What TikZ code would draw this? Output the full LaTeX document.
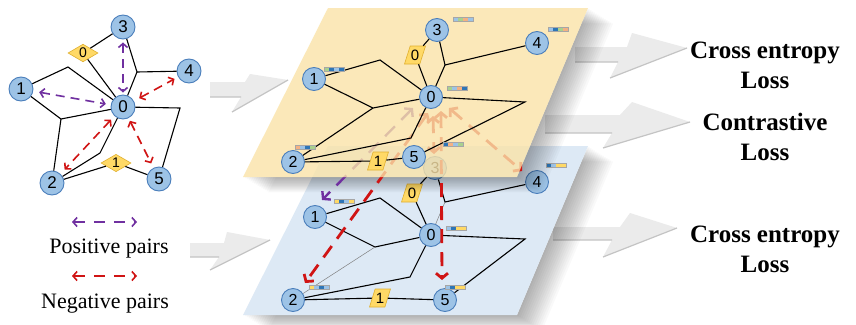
\documentclass[tikz,border=0pt]{standalone}
\usepackage{fontspec}
\setmainfont{Liberation Serif}
\newfontfamily\sansf{Liberation Sans}
\usetikzlibrary{shapes.geometric,arrows.meta}
\definecolor{nodef}{HTML}{9DC3E6}
\definecolor{nodeb}{HTML}{4A7EBB}
\definecolor{yel}{HTML}{FAE3A8}
\definecolor{blu}{HTML}{DDE9F5}
\definecolor{dia}{HTML}{FFD966}
\definecolor{diab}{HTML}{E0B030}
\definecolor{pur}{HTML}{7030A0}
\definecolor{redd}{HTML}{D01414}
\definecolor{fa}{HTML}{9DC3E6}
\definecolor{fg}{HTML}{A9D18E}
\definecolor{fo}{HTML}{F4B183}
\definecolor{fd}{HTML}{2E75B6}
\definecolor{fy}{HTML}{FFD966}
\definecolor{arrf}{HTML}{EBEBEB}
\definecolor{arre}{HTML}{C4C4C4}
\newcommand{\fbar}[5]{%
  \begin{scope}[shift={#1}]
    \fill[#2] (0,0) rectangle (5,4.5);
    \fill[#3] (5,0) rectangle (10,4.5);
    \fill[#4] (10,0) rectangle (15,4.5);
    \fill[#5] (15,0) rectangle (20,4.5);
    \draw[gray!70, line width=0.3pt] (0,0) rectangle (20,4.5);
  \end{scope}}
\tikzset{
  gn/.style={circle, draw=nodeb, fill=nodef, line width=0.9pt, minimum size=23pt, inner sep=0pt,
    font=\sansf\fontsize{16}{16}\selectfont},
  lgn/.style={gn, minimum size=24pt, font=\sansf\fontsize{17}{17}\selectfont},
  dmd/.style={diamond, fill=dia, draw=diab, line width=0.6pt, minimum width=30pt, minimum height=17pt,
    inner sep=0pt, font=\sansf\fontsize{14}{14}\selectfont},
  par/.style={trapezium, trapezium left angle=65, trapezium right angle=115, trapezium stretches=true,
    fill=dia, draw=diab, line width=0.6pt, minimum width=21pt, minimum height=18pt, inner sep=0pt,
    font=\sansf\fontsize{15}{15}\selectfont},
  gedge/.style={black, line width=1.1pt},
  thinedge/.style={gray, line width=0.5pt},
  posarr/.style={pur, line width=1.6pt, dash pattern=on 9pt off 6pt,
    arrows={Straight Barb[length=4pt,width=9pt]-Straight Barb[length=4pt,width=9pt]}},
  negarr/.style={posarr, redd},
  interarr/.style={redd, line width=2.8pt, dash pattern=on 14pt off 9pt,
    arrows={Straight Barb[length=5pt,width=12pt]-Straight Barb[length=5pt,width=12pt]}},
  lbl/.style={font=\fontsize{22}{26}\selectfont, inner sep=0pt},
  losstxt/.style={font=\bfseries\fontsize{25}{30}\selectfont, align=center, inner sep=0pt},
  garrow/.style={fill=arrf, draw=none},
  gedgeline/.style={arre, line width=1.2pt},
}
\begin{document}
\begin{tikzpicture}[x=1pt,y=-1pt]
\useasboundingbox (0,0) rectangle (856,324);
\fill[white] (0,0) rectangle (856,324);

% ---------- gray arrows ----------
\fill[garrow] (210,82) -- (245,82) -- (250,74) -- (288,80) -- (232,112) -- (241,97) -- (210,97) -- cycle;
\draw[gedgeline] (210,97) -- (241,97) (288,80) -- (232,112);
\fill[garrow] (190,243) -- (224,243) -- (227,232) -- (270,240) -- (210,270) -- (219,257) -- (190,257) -- cycle;
\draw[gedgeline] (190,257) -- (219,257) (270,240) -- (210,270);
\fill[garrow] (575,47) -- (627,47) -- (632,33) -- (687,48) -- (610,78) -- (618,62) -- (575,62) -- cycle;
\draw[gedgeline] (575,62) -- (618,62) (687,48) -- (610,78);
\fill[garrow] (545,115) -- (620,115) -- (632,102) -- (690,122) -- (603,148) -- (612,133) -- (545,133) -- cycle;
\draw[gedgeline] (545,133) -- (612,133) (690,122) -- (603,148);
\fill[garrow] (553,227) -- (620,227) -- (630,213) -- (677,228) -- (603,257) -- (612,240) -- (553,240) -- cycle;
\draw[gedgeline] (553,240) -- (612,240) (677,228) -- (603,257);

% ---------- left graph ----------
\node[lgn] (L0) at (123,107) {0};
\node[lgn] (L1) at (21,89) {1};
\node[lgn] (L2) at (52,183) {2};
\node[lgn] (L3) at (123,27) {3};
\node[lgn] (L4) at (189,71) {4};
\node[lgn] (L5) at (159,179) {5};
\node[dmd] (LD0) at (83,53) {0};
\node[dmd] (LD1) at (116,163) {1};
\coordinate (la) at (137,72);
\coordinate (lb) at (68,67);
\coordinate (lc) at (61,119);
\coordinate (ld) at (100,153);
\coordinate (le) at (180,108);
\draw[gedge] (L3) -- (LD0) -- (L0);
\draw[gedge] (L3) -- (la) -- (L4);
\draw[gedge] (la) -- (L0);
\draw[gedge] (L1) -- (lb) -- (L0);
\draw[gedge] (L1) -- (lc) -- (L0);
\draw[gedge] (lc) -- (L2);
\draw[gedge] (L0) -- (ld) -- (L2);
\draw[gedge] (L0) -- (le) -- (L5);
\draw[gedge] (L2) -- (LD1) -- (L5);
\draw[posarr, shorten <=3pt, shorten >=2pt] (L3) -- (L0);
\draw[posarr, shorten <=6pt, shorten >=5pt] (L1) -- (L0);
\draw[negarr, shorten <=6pt, shorten >=4pt] (L0) -- (L4);
\draw[negarr, shorten <=5pt, shorten >=6pt] (L0) -- (L2);
\draw[negarr, shorten <=3pt, shorten >=5pt] (L0) -- (L5);

% legend
\coordinate (pa) at (72,222);
\coordinate (pb) at (137,222);
\coordinate (na) at (72,276);
\coordinate (nb) at (137,276);
\draw[posarr, dash pattern=on 11pt off 9pt] (pa) -- (pb);
\draw[negarr, dash pattern=on 11pt off 9pt] (na) -- (nb);
\node[lbl] (pos) at (109,249) {Positive pairs};
\node[lbl] (neg) at (105,304) {Negative pairs};

% ---------- loss labels ----------
\node[losstxt] (ce1) at (765,65) {Cross entropy\\Loss};
\node[losstxt] (cl) at (765,137) {Contrastive\\Loss};
\node[losstxt] (ce2) at (765,249) {Cross entropy\\Loss};

% ---------- blue plane ----------
\begin{scope}
  \clip (588,146) -- (860,146) -- (860,330) -- (230,330) -- (243,315) -- (517,315) -- cycle;
  \foreach \i in {1,...,14}{
    \begin{scope}[shift={(1.8*\i,1.1*\i)}]
      \fill[black, opacity=0.025] (328,146) -- (588,146) -- (517,315) -- (243,315) -- cycle;
    \end{scope}}
\end{scope}
\fill[blu] (328,146) -- (588,146) -- (517,315) -- (243,315) -- cycle;

% bottom graph
\node[gn] (B0) at (431,235) {0};
\node[gn] (B1) at (315,217) {1};
\node[gn] (B2) at (293,300) {2};
\node[gn] (B3) at (435,168) {3};
\node[gn] (B4) at (537,182) {4};
\node[gn] (B5) at (445,300) {5};
\node[par] (BP0) at (412,193) {0};
\node[par] (BP1) at (380,298) {1};
\coordinate (ba) at (445,202);
\coordinate (bb) at (380,198);
\coordinate (bc) at (375,247);
\coordinate (bd) at (410,277);
\coordinate (be) at (525,239);
\draw[gedge] (B3) -- (BP0) -- (B0);
\draw[gedge] (B3) -- (ba) -- (B4);
\draw[thinedge] (ba) -- (B0);
\draw[gedge] (B1) -- (bb) -- (B0);
\draw[gedge] (B1) -- (bc) -- (B0);
\draw[thinedge] (bc) -- (B2);
\draw[gedge] (B0) -- (bd) -- (B2);
\draw[gedge] (B0) -- (be) -- (B5);
\draw[gedge] (B2) -- (BP1) -- (B5);
\fbar{(546,163)}{fd}{fa}{fy}{fy}
\fbar{(334,199)}{fy}{fd}{fa}{fy}
\fbar{(446,226)}{fa}{fd}{fy}{fy}
\fbar{(309,285)}{fy}{fa}{fd}{fa}
\fbar{(445,285)}{fa}{fd}{fy}{fy}

% ---------- yellow plane shadow ----------
\begin{scope}
  \clip (588,8) -- (860,8) -- (860,330) -- (230,330) -- (243,177) -- (517,177) -- cycle;
  \foreach \i in {1,...,14}{
    \begin{scope}[shift={(1.8*\i,1.1*\i)}]
      \fill[black, opacity=0.025] (328,8) -- (588,8) -- (517,177) -- (243,177) -- cycle;
    \end{scope}}
\end{scope}

% ---------- inter-plane pairs ----------
\coordinate (u1) at (413,108);
\coordinate (u2) at (322,200);
\coordinate (r2a) at (428,113);
\coordinate (r2b) at (305,283);
\coordinate (r3a) at (433,116);
\coordinate (r3b) at (434,154);
\coordinate (r5a) at (441,111);
\coordinate (r5b) at (442,280);
\coordinate (r4a) at (449,108);
\coordinate (r4b) at (522,171);
\draw[interarr, pur, line width=2.4pt] (u1) -- (u2);
\draw[interarr] (r2a) -- (r2b);
\draw[interarr] (r3a) -- (r3b);
\draw[interarr] (r5a) -- (r5b);
\draw[interarr] (r4a) -- (r4b);

% ---------- yellow plane ----------
\fill[yel, fill opacity=0.8] (328,8) -- (588,8) -- (517,177) -- (243,177) -- cycle;

% top graph
\node[gn] (T0) at (431,97) {0};
\node[gn] (T1) at (314,79) {1};
\node[gn] (T2) at (293,162) {2};
\node[gn] (T3) at (437,30) {3};
\node[gn] (T4) at (537,43) {4};
\node[gn] (T5) at (414,157) {5};
\node[par] (TP0) at (415,55) {0};
\node[par] (TP1) at (378,161) {1};
\coordinate (ta) at (445,65);
\coordinate (tb) at (380,60);
\coordinate (tc) at (373,108);
\coordinate (td) at (411,138);
\coordinate (te) at (525,102);
\draw[gedge] (T3) -- (TP0) -- (T0);
\draw[gedge] (T3) -- (ta) -- (T4);
\draw[gedge] (ta) -- (T0);
\draw[gedge] (T1) -- (tb) -- (T0);
\draw[gedge] (T1) -- (tc) -- (T0);
\draw[gedge] (tc) -- (T2);
\draw[gedge] (T0) -- (td) -- (T2);
\draw[gedge] (T0) -- (te) -- (T5);
\draw[gedge] (T2) -- (TP1) -- (T5);
\fbar{(453,17)}{fa}{fg}{fo}{fa}
\fbar{(548,27)}{fa}{fd}{fg}{fo}
\fbar{(324,67)}{fg}{fd}{fa}{fd}
\fbar{(447,86)}{fg}{fa}{fo}{fd}
\fbar{(295,145)}{fo}{fa}{fd}{fg}
\fbar{(443,142)}{fd}{fo}{fa}{fg}
\end{tikzpicture}
\end{document}
